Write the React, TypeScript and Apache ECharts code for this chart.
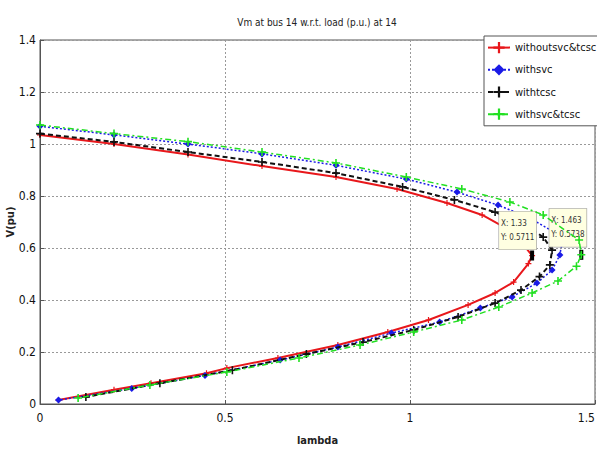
import React, { useEffect, useRef } from "react";
import * as echarts from "echarts";

const FONT = "'DejaVu Sans Condensed', 'Liberation Sans Narrow', 'Liberation Sans', Arial, sans-serif";

const titleText = "Vm at bus 14 w.r.t. load (p.u.) at 14";
const seriesNames = ["withoutsvc&tcsc", "withsvc", "withtcsc", "withsvc&tcsc"];
const xTicks = [0, 0.5, 1, 1.5];
const yTicks = [0, 0.2, 0.4, 0.6, 0.8, 1, 1.2, 1.4];

const redLambda = [0, 0.2, 0.4, 0.6, 0.8, 0.965, 1.1, 1.195, 1.28, 1.33, 1.32, 1.28, 1.23, 1.157, 1.05, 0.94, 0.805, 0.643, 0.505, 0.45, 0.3, 0.2, 0.05];
const redV = [1.035, 1.0, 0.96, 0.915, 0.873, 0.827, 0.773, 0.727, 0.66, 0.571, 0.54, 0.469, 0.427, 0.381, 0.323, 0.277, 0.227, 0.177, 0.138, 0.118, 0.08, 0.055, 0.015];

const blueLambda = [0, 0.2, 0.4, 0.6, 0.8, 0.99, 1.127, 1.238, 1.324, 1.39, 1.41, 1.405, 1.384, 1.343, 1.276, 1.19, 1.08, 0.95, 0.805, 0.649, 0.446, 0.248, 0.05];
const blueV = [1.068, 1.035, 1.0, 0.962, 0.918, 0.865, 0.815, 0.765, 0.715, 0.66, 0.615, 0.573, 0.515, 0.465, 0.412, 0.369, 0.315, 0.273, 0.219, 0.169, 0.11, 0.06, 0.015];

const blackLambda = [0, 0.2, 0.4, 0.6, 0.8, 0.98, 1.12, 1.23, 1.31, 1.36, 1.384, 1.378, 1.35, 1.3, 1.23, 1.13, 1.01, 0.873, 0.72, 0.52, 0.324, 0.124];
const blackV = [1.04, 1.008, 0.969, 0.931, 0.888, 0.835, 0.785, 0.738, 0.69, 0.642, 0.592, 0.535, 0.49, 0.438, 0.388, 0.335, 0.285, 0.238, 0.192, 0.13, 0.08, 0.027];

const greenLambda = [0, 0.2, 0.4, 0.6, 0.8, 0.99, 1.14, 1.27, 1.36, 1.457, 1.463, 1.45, 1.4, 1.33, 1.24, 1.14, 1.01, 0.865, 0.7, 0.505, 0.297, 0.103];
const greenV = [1.073, 1.04, 1.009, 0.969, 0.927, 0.873, 0.827, 0.777, 0.727, 0.631, 0.5738, 0.53, 0.473, 0.427, 0.373, 0.323, 0.277, 0.227, 0.177, 0.123, 0.073, 0.023];

const tip1 = [1.33, 0.5711];
const tip2 = [1.463, 0.5738];

const zip = (xs: number[], ys: number[]) => xs.map((x, i) => [x, ys[i]]);

const PLUS = "path://M4,0H6V4H10V6H6V10H4V6H0V4H4Z";

function tipPoint(coord: number[], off: number[]) {
  return {
    coord,
    symbol: "rect",
    symbolSize: [4, 10],
    itemStyle: { color: "#000" },
    label: {
      show: true,
      position: off,
      formatter: `X: ${coord[0]}\nY: ${coord[1]}`,
      fontFamily: FONT,
      fontSize: 8,
      lineHeight: 14,
      color: "#333",
      backgroundColor: "#ffffe1",
      borderColor: "#999",
      borderWidth: 0.6,
      padding: [5, 2],
      align: "left",
      verticalAlign: "top",
    },
  };
}

export default function App() {
  const ref = useRef<HTMLDivElement>(null);
  useEffect(() => {
    document.body.style.margin = "0";
    const chart = echarts.init(ref.current!, null, { renderer: "svg" });
    chart.setOption({
      animation: false,
      backgroundColor: "#fff",
      title: {
        text: titleText,
        left: 312,
        textAlign: "center",
        top: 12,
        textStyle: { fontFamily: FONT, fontSize: 10, fontWeight: "normal", color: "#222" },
      },
      grid: {
        left: 40,
        right: 2,
        top: 40,
        bottom: 46,
        outerBoundsMode: "none",
        containLabel: false,
        show: true,
        borderColor: "#555",
        borderWidth: 1,
        backgroundColor: "transparent",
      },
      legend: {
        orient: "vertical",
        left: 484,
        top: 36,
        padding: [6, 2, 6, 3],
        itemGap: 11,
        itemWidth: 22,
        itemHeight: 14,
        backgroundColor: "#fff",
        borderColor: "#555",
        borderWidth: 1,
        textStyle: { fontFamily: FONT, fontSize: 11, color: "#111", fontWeight: "normal" },
        data: seriesNames,
      },
      xAxis: {
        type: "value",
        min: 0,
        max: 1.5,
        interval: 0.5,
        name: "lambda",
        nameLocation: "middle",
        nameGap: 31,
        nameMoveOverlap: false,
        nameTextStyle: { fontFamily: FONT, fontSize: 11, color: "#222", fontWeight: "bold" },
        axisLine: { show: true, onZero: false, lineStyle: { color: "#555" } },
        axisTick: { show: true, inside: true, length: 4, lineStyle: { color: "#555" } },
        axisLabel: {
          fontFamily: FONT,
          fontSize: 12,
          color: "#111",
          fontWeight: "normal",
          margin: 8,
          alignMaxLabel: "right",
          formatter: (v: number) => (xTicks.includes(v) ? String(v) : ""),
        },
        splitLine: { show: true, lineStyle: { color: "#999", type: [2, 2], width: 1 } },
      },
      yAxis: {
        type: "value",
        min: 0,
        max: 1.4,
        interval: 0.2,
        name: "V(pu)",
        nameLocation: "middle",
        nameGap: 24,
        nameMoveOverlap: false,
        nameTextStyle: { fontFamily: FONT, fontSize: 11, color: "#222", fontWeight: "bold" },
        axisLine: { show: true, onZero: false, lineStyle: { color: "#555" } },
        axisTick: { show: true, inside: true, length: 4, lineStyle: { color: "#555" } },
        axisLabel: {
          fontFamily: FONT,
          fontSize: 12,
          color: "#111",
          fontWeight: "normal",
          margin: 4,
          formatter: (v: number) => {
            const t = yTicks.find((y) => Math.abs(y - v) < 1e-6);
            return t === undefined ? "" : String(t);
          },
        },
        splitLine: { show: true, lineStyle: { color: "#999", type: [2, 2], width: 1 } },
      },
      series: [
        {
          name: seriesNames[0],
          type: "line",
          data: zip(redLambda, redV),
          symbol: PLUS,
          symbolSize: 6,
          showAllSymbol: true,
          itemStyle: { color: "#e8171b" },
          lineStyle: { color: "#e8171b", width: 2, type: "solid" },
          markPoint: { data: [tipPoint(tip1, [-31, -39])] },
          z: 2,
        },
        {
          name: seriesNames[1],
          type: "line",
          data: zip(blueLambda, blueV),
          symbol: "diamond",
          symbolSize: 7,
          showAllSymbol: true,
          itemStyle: { color: "#1a1ae6" },
          lineStyle: { color: "#1a1ae6", width: 1.5, type: [2, 2] },
          z: 3,
        },
        {
          name: seriesNames[2],
          type: "line",
          data: zip(blackLambda, blackV),
          symbol: PLUS,
          symbolSize: 8,
          showAllSymbol: true,
          itemStyle: { color: "#111" },
          lineStyle: { color: "#111", width: 2, type: [5, 3] },
          z: 4,
        },
        {
          name: seriesNames[3],
          type: "line",
          data: zip(greenLambda, greenV),
          symbol: PLUS,
          symbolSize: 8,
          showAllSymbol: true,
          itemStyle: { color: "#22e022" },
          lineStyle: { color: "#22e022", width: 1.5, type: [6, 3, 2, 3] },
          markPoint: { data: [tipPoint(tip2, [-30, -41])] },
          z: 5,
        },
      ],
    });
    return () => chart.dispose();
  }, []);
  return <div ref={ref} style={{ width: 597, height: 450 }} />;
}
